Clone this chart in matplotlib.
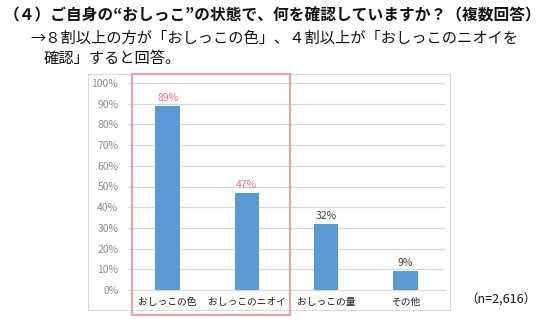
import matplotlib.pyplot as plt
from matplotlib.patches import Rectangle

plt.rcParams['font.family'] = ['Noto Sans CJK JP', 'DejaVu Sans']

categories = ['おしっこの色', 'おしっこのニオイ', 'おしっこの量', 'その他']
values = [89, 47, 32, 9]
label_colors = ['#E8727A', '#E8727A', '#404040', '#404040']
yticks = [0, 10, 20, 30, 40, 50, 60, 70, 80, 90, 100]

W, H = 550, 326
fig = plt.figure(figsize=(5.5, 3.26), dpi=100)

# plot area in pixel coords
left, right, top, bottom = 128, 445, 83, 290
ax = fig.add_axes([left / W, 1 - bottom / H, (right - left) / W, (bottom - top) / H])

x = range(len(categories))
ax.bar(x, values, width=0.31, color='#5B9BD5', zorder=3)
for i, v in enumerate(values):
    ax.text(i, v + 1.5, f'{v}%', ha='center', va='bottom', fontsize=7.5,
            color=label_colors[i])

ax.set_xlim(-0.5, len(categories) - 0.5)
ax.set_ylim(0, 100)
ax.set_yticks(yticks)
ax.set_yticklabels([f'{t}%' for t in yticks], fontsize=7.5, color='#8C8C8C')
ax.set_xticks(list(x))
ax.set_xticklabels(categories, fontsize=7, color='#202020')
ax.tick_params(length=0, pad=7)
ax.tick_params(axis='x', pad=5)
ax.grid(axis='y', color='#D9D9D9', linewidth=0.9, zorder=0)
for s in ['top', 'right', 'left']:
    ax.spines[s].set_visible(False)
ax.spines['bottom'].set_color('#D9D9D9')

# chart frame
fig.patches.append(Rectangle((88 / W, 1 - 310 / H), (450 - 88) / W, (310 - 74) / H,
                             transform=fig.transFigure, fill=False,
                             edgecolor='#D9D9D9', linewidth=0.8))
# highlight box
fig.patches.append(Rectangle((132 / W, 1 - 315 / H), (290 - 132) / W, (315 - 74) / H,
                             transform=fig.transFigure, fill=False,
                             edgecolor='#E6A3AA', linewidth=1.6, zorder=5))

fig.text(4 / W, 1 - 15 / H, '（４）ご自身の“おしっこ”の状態で、何を確認していますか？（複数回答）',
         fontsize=11.3, fontweight='bold', va='center', ha='left', color='#111111')
fig.text(30 / W, 1 - 38 / H, '→８割以上の方が「おしっこの色」、４割以上が「おしっこのニオイを',
         fontsize=11, va='center', ha='left', color='#111111')
fig.text(44 / W, 1 - 58 / H, '確認」すると回答。',
         fontsize=11, va='center', ha='left', color='#111111')
fig.text(465 / W, 1 - 300 / H, '（n=2,616）', fontsize=9, va='center', ha='left',
         color='#111111', family=['Noto Sans CJK JP', 'DejaVu Serif'])

fig.savefig('out.png', dpi=100)
